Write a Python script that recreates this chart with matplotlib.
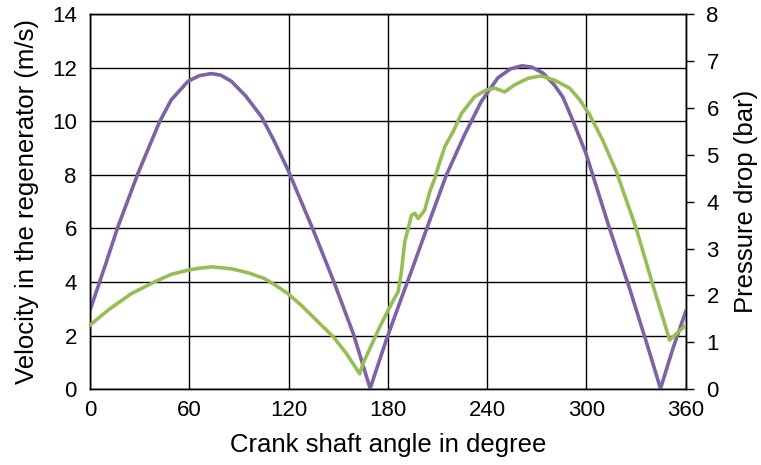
import matplotlib
matplotlib.use("Agg")
import matplotlib.pyplot as plt

plt.rcParams['font.family'] = ['Liberation Sans', 'DejaVu Sans']

# velocity in the regenerator (m/s), left axis
ang_v = [0, 8.9, 16.9, 29, 42.1, 49.1, 59.2, 66, 73.3, 79, 85.4, 94, 103.5,
         111, 119.6, 127, 134.9, 147, 159.1, 169.3, 179.1, 188.2, 194.3,
         204.3, 215.4, 226.4, 236.5, 246.5, 254, 261, 267, 273.7, 280.7,
         285.8, 292, 299.9, 314, 326.1, 336.2, 344.8, 352.3, 360]
vel = [2.95, 4.57, 6.07, 8.06, 9.99, 10.8, 11.49, 11.7, 11.78, 11.72, 11.49,
       10.95, 10.18, 9.3, 8.19, 7.1, 5.94, 4.07, 2.08, 0.03, 1.85, 3.4, 4.42,
       6.13, 8.0, 9.5, 10.74, 11.62, 11.95, 12.07, 12.02, 11.8, 11.35,
       10.9, 10.0, 8.77, 6.0, 3.76, 1.77, 0.03, 1.52, 2.9]

# pressure drop (bar), right axis
ang_p = [0, 11, 25, 39, 49, 59.2, 66, 73.3, 85.4, 96, 105.5, 112, 119.6,
         128, 136.9, 147, 155, 163, 165, 175.1, 183, 186.2, 188.2, 190.2,
         194.3, 196.3, 198.3, 202.3, 205.3, 208.3, 211.4, 214.4, 219.4, 224.5,
         232.5, 239.5, 244.6, 250.6, 256.6, 264.7, 272.7, 280.7, 289.9, 296,
         302, 310, 318.1, 330.1, 340.2, 350.3, 360]
dp = [1.37, 1.69, 2.04, 2.29, 2.45, 2.54, 2.58, 2.61, 2.57, 2.48, 2.36, 2.22,
      2.04, 1.78, 1.47, 1.12, 0.76, 0.33, 0.55, 1.33, 1.88, 2.08, 2.5, 3.14,
      3.71, 3.75, 3.64, 3.82, 4.21, 4.49, 4.85, 5.17, 5.49, 5.88,
      6.24, 6.38, 6.42, 6.34, 6.49, 6.63, 6.68, 6.59, 6.42, 6.17,
      5.85, 5.3, 4.64, 3.43, 2.22, 1.05, 1.37]

fig = plt.figure(figsize=(7.61, 4.65), dpi=100)
ax = fig.add_axes([0.1183, 0.1628, 0.7827, 0.807])
ax2 = ax.twinx()

ax.plot(ang_v, vel, color='#7E62A6', lw=2.6, zorder=3, solid_joinstyle='round')
ax2.plot(ang_p, dp, color='#97BE55', lw=2.6, zorder=3, solid_joinstyle='round')

ax.set_xlim(0, 360)
ax.set_ylim(0, 14)
ax2.set_ylim(0, 8)
ax.set_xticks(range(0, 361, 60))
ax.set_yticks(range(0, 15, 2))
ax2.set_yticks(range(0, 9, 1))

ax.grid(True, color='black', lw=1)
ax.set_axisbelow(True)
ax.tick_params(axis='x', length=0, labelsize=16, pad=8)
ax.tick_params(axis='y', length=0, labelsize=16, pad=9.5)
ax2.tick_params(axis='y', length=6, width=1, direction='out', labelsize=16, pad=9)

for a in (ax, ax2):
    for s in a.spines.values():
        s.set_color('black')
        s.set_linewidth(1)

ax.set_xlabel('Crank shaft angle in degree', fontsize=18.5, labelpad=8)
ax.set_ylabel('Velocity in the regenerator (m/s)', fontsize=18.5, labelpad=9)
ax2.set_ylabel('Pressure drop (bar)', fontsize=18.5, labelpad=11)

fig.savefig('out.png', dpi=100)
